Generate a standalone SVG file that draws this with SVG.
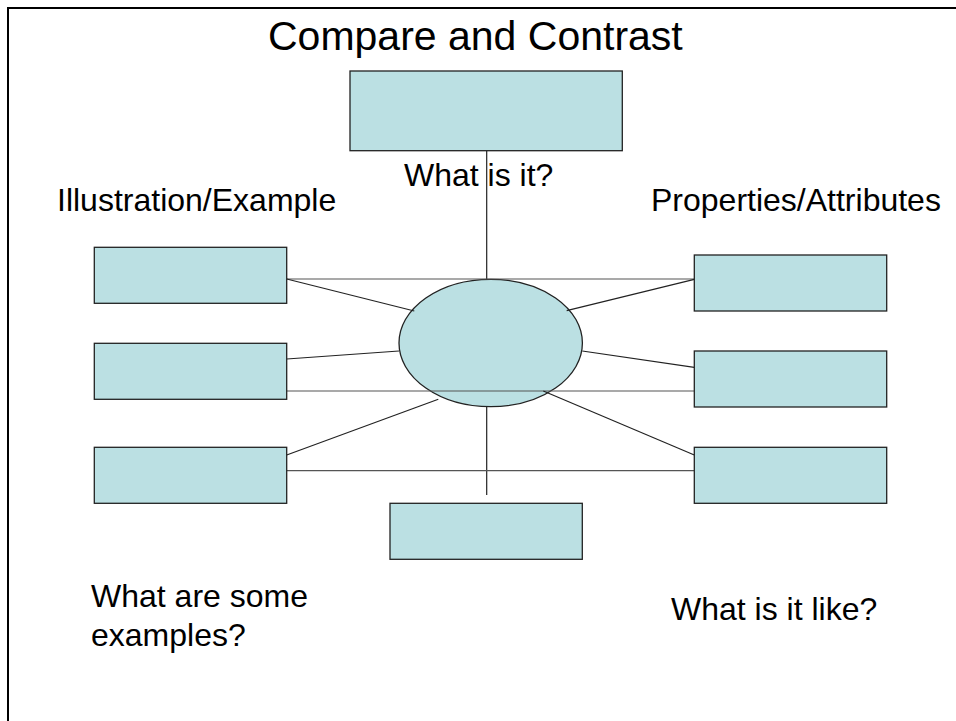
<svg xmlns="http://www.w3.org/2000/svg" width="956" height="721" viewBox="0 0 956 721">
<style>
.box{fill:#bbe0e3;stroke:#222;stroke-width:1.3}
.ln{stroke:#222;stroke-width:1.2;fill:none}
.hl{stroke:#555;stroke-width:1.2;fill:none}
.t{font-family:"Liberation Sans",Arial,sans-serif;font-size:32px;fill:#000}
</style>
<rect width="956" height="721" fill="#fff"/>
<path d="M8,730 V8 H960" fill="none" stroke="#000" stroke-width="2"/>
<text class="t" x="268" y="50" style="font-size:41px">Compare and Contrast</text>
<g id="connectors-back">
<line class="ln" x1="486.7" y1="151" x2="486.7" y2="495"/>
</g>
<g id="center"><ellipse class="box" cx="490.7" cy="343" rx="91.7" ry="63.7"/></g>
<g id="connectors">
<line class="hl" x1="286.7" y1="279" x2="694.3" y2="279"/>
<line class="hl" x1="286.7" y1="391" x2="694.3" y2="391"/>
<line class="hl" x1="286.7" y1="470.7" x2="694.3" y2="470.7"/>
<line class="ln" x1="286.7" y1="279" x2="414.3" y2="311"/>
<line class="ln" x1="286.7" y1="359" x2="399" y2="351"/>
<line class="ln" x1="286.7" y1="455" x2="438.3" y2="399.3"/>
<line class="ln" x1="694.3" y1="279.3" x2="566.7" y2="310.7"/>
<line class="ln" x1="694.3" y1="367.3" x2="582.3" y2="351"/>
<line class="ln" x1="694.3" y1="455" x2="543.3" y2="391"/>
</g>
<g id="top"><rect class="box" x="350" y="71" width="272.3" height="79.7"/></g>
<g id="left1"><rect class="box" x="94.3" y="247.3" width="192.4" height="56"/></g>
<g id="left2"><rect class="box" x="94.3" y="343.3" width="192.4" height="56"/></g>
<g id="left3"><rect class="box" x="94.3" y="447.3" width="192.4" height="56"/></g>
<g id="right1"><rect class="box" x="694.3" y="255" width="192.4" height="56"/></g>
<g id="right2"><rect class="box" x="694.3" y="351" width="192.4" height="56"/></g>
<g id="right3"><rect class="box" x="694.3" y="447.3" width="192.4" height="56"/></g>
<g id="bottom"><rect class="box" x="390" y="503.3" width="192.3" height="56"/></g>
<g id="labels">
<text class="t" x="57" y="211">Illustration/Example</text>
<text class="t" x="404" y="186">What is it?</text>
<text class="t" x="651" y="211">Properties/Attributes</text>
<text class="t" x="91" y="607">What are some</text>
<text class="t" x="91" y="646">examples?</text>
<text class="t" x="671" y="620">What is it like?</text>
</g>
</svg>
